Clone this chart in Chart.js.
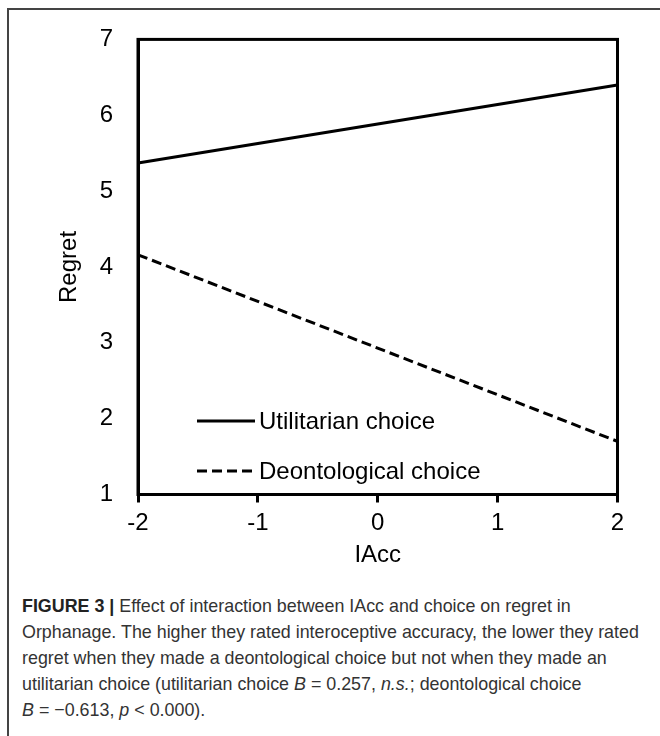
<!DOCTYPE html>
<html>
<head>
<meta charset="utf-8">
<script src="https://cdn.jsdelivr.net/npm/chart.js@4.4.1/dist/chart.umd.min.js"></script>
<style>
  html, body { margin: 0; padding: 0; background: #fff; }
  body { width: 660px; height: 736px; position: relative; overflow: hidden; }
  #frame { position: absolute; left: 7px; top: 8px; width: 700px; height: 800px;
           border-left: 2px solid #444; border-top: 2px solid #444; }
  #wrap { position: absolute; left: 0; top: 0; width: 660px; height: 580px; }
  #caption { position: absolute; left: 22px; top: 593px; width: 700px;
             font-family: "Liberation Sans", Arial, sans-serif; font-size: 19px;
             line-height: 26px; color: #333; white-space: nowrap;
             transform: scaleX(0.94); transform-origin: 0 0; }
  #caption b { color: #222; }
</style>
</head>
<body>
<div id="frame"></div>
<div id="wrap"><canvas id="c" width="660" height="580"></canvas></div>
<div id="caption">
<b>FIGURE 3 |</b> Effect of interaction between IAcc and choice on regret in<br>
Orphanage. The higher they rated interoceptive accuracy, the lower they rated<br>
regret when they made a deontological choice but not when they made an<br>
utilitarian choice (utilitarian choice <i>B</i> = 0.257, <i>n.s.</i>; deontological choice<br>
<i>B</i> = &minus;0.613, <i>p</i> &lt; 0.000).
</div>
<script>
// ---- data ----
const iacc = [-2, 2];
const utilitarian = [5.37, 6.40];
const deontological = [4.16, 1.70];
const seriesNames = ["Utilitarian choice", "Deontological choice"];
const xTicks = [-2, -1, 0, 1, 2];
const yTicks = [1, 2, 3, 4, 5, 6, 7];
const xTitle = "IAcc";
const yTitle = "Regret";

const FONT = "'Liberation Sans', Arial, sans-serif";

const frameBox = {
  id: 'frameBox',
  afterDatasetsDraw(chart) {
    const {ctx, chartArea: a} = chart;
    ctx.save();
    ctx.strokeStyle = '#000';
    ctx.lineWidth = 3;
    ctx.lineJoin = 'miter';
    ctx.strokeRect(a.left, a.top, a.right - a.left, a.bottom - a.top);
    ctx.restore();
  }
};

const innerLegend = {
  id: 'innerLegend',
  afterDraw(chart) {
    const ctx = chart.ctx;
    const x0 = 197, x1 = 255, tx = 259;
    const ys = [421, 471];
    ctx.save();
    chart.data.datasets.forEach((ds, i) => {
      ctx.strokeStyle = ds.borderColor;
      ctx.lineWidth = ds.borderWidth;
      ctx.setLineDash(ds.borderDash || []);
      ctx.beginPath();
      ctx.moveTo(x0, ys[i]);
      ctx.lineTo(x1, ys[i]);
      ctx.stroke();
      ctx.setLineDash([]);
      ctx.fillStyle = '#000';
      ctx.font = '24px ' + FONT;
      ctx.textBaseline = 'middle';
      ctx.textAlign = 'left';
      ctx.fillText(ds.label, tx, ys[i] + 1);
    });
    ctx.restore();
  }
};

new Chart(document.getElementById('c'), {
  type: 'line',
  data: {
    datasets: [
      { label: seriesNames[0], data: iacc.map((x, i) => ({x, y: utilitarian[i]})),
        borderColor: '#000', borderWidth: 3, pointRadius: 0, fill: false, tension: 0 },
      { label: seriesNames[1], data: iacc.map((x, i) => ({x, y: deontological[i]})),
        borderColor: '#000', borderWidth: 3, borderDash: [10, 5], pointRadius: 0, fill: false, tension: 0 }
    ]
  },
  options: {
    responsive: false,
    animation: false,
    devicePixelRatio: 1,
    clip: false,
    layout: { padding: { left: 0, top: 38, right: 42.5, bottom: 0 } },
    plugins: { legend: { display: false }, tooltip: { enabled: false } },
    scales: {
      x: {
        type: 'linear', min: -2, max: 2,
        afterBuildTicks: (ax) => { ax.ticks = xTicks.map(v => ({value: v})); },
        afterFit: (ax) => { ax.height = 85.5; },
        ticks: { color: '#000', font: { family: FONT, size: 24 }, padding: 6 },
        grid: { drawOnChartArea: false, drawTicks: true, tickLength: 8, tickWidth: 3, tickColor: '#000' },
        border: { display: true, color: '#000', width: 3 },
        title: { display: true, text: xTitle, color: '#000', font: { family: FONT, size: 24 }, padding: { top: 0, bottom: 10 } }
      },
      y: {
        type: 'linear', min: 1, max: 7,
        afterBuildTicks: (ax) => { ax.ticks = yTicks.map(v => ({value: v})); },
        afterFit: (ax) => { ax.width = 138; },
        ticks: { color: '#000', font: { family: FONT, size: 24 }, padding: 25 },
        grid: { drawOnChartArea: false, drawTicks: false },
        border: { display: true, color: '#000', width: 3 },
        title: { display: true, text: yTitle, color: '#000', font: { family: FONT, size: 24 }, padding: { top: 55, bottom: 0 } }
      }
    }
  },
  plugins: [frameBox, innerLegend]
});
</script>
</body>
</html>
